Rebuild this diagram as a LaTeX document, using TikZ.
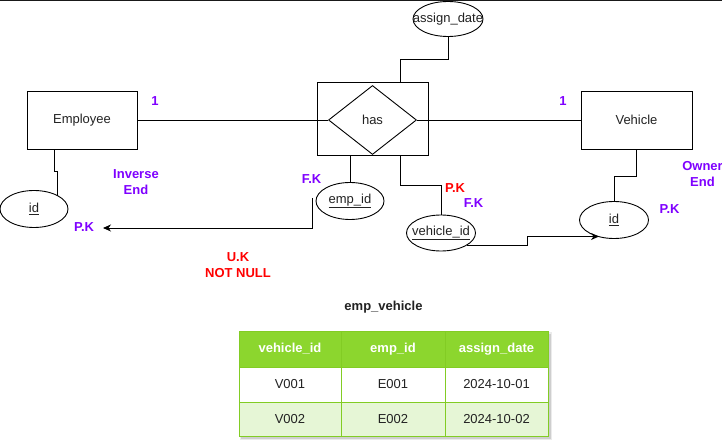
\documentclass[tikz,border=0pt]{standalone}
\usepackage{fontspec}
\setmainfont{Liberation Sans}
\usetikzlibrary{shapes.geometric,arrows.meta}
\definecolor{lbl}{HTML}{7F00FF}
\definecolor{redlbl}{HTML}{FF0000}
\definecolor{hdr}{HTML}{8CD62E}
\definecolor{hdrline}{HTML}{82CC24}
\definecolor{rowlt}{HTML}{E6F6D6}
\definecolor{txt}{HTML}{222222}
\tikzset{
  base/.style={font=\fontsize{13}{15}\selectfont, text=txt, inner sep=0pt},
  entity/.style={base, draw=black, line width=0.9pt, minimum width=110pt, minimum height=58pt},
  attr/.style 2 args={draw=black, line width=0.9pt, ellipse, inner sep=0pt, minimum width=#1, minimum height=37pt,
     label={[base]center:#2}},
  rel/.style={base, draw=black, line width=0.9pt, diamond, aspect=1.275, minimum width=88pt, minimum height=69pt},
  conn/.style={draw=black, line width=0.9pt},
  arr/.style={conn, -{Stealth[length=8pt,width=7pt,inset=2.5pt]}},
  plbl/.style={font=\bfseries\fontsize{13}{16}\selectfont, text=lbl, align=center, inner sep=0pt},
  rlbl/.style={font=\bfseries\fontsize{13}{16}\selectfont, text=redlbl, align=center, inner sep=0pt},
  cell/.style={draw=hdrline, line width=1pt, minimum height=#1, inner sep=0pt, font=\fontsize{13}{15}\selectfont, text=txt},
}
\begin{document}
\begin{tikzpicture}[x=1pt,y=-1pt]
\useasboundingbox (0,0) rectangle (722,443);
\clip (0,0) rectangle (722,443);
\fill[white] (0,0) rectangle (722,443);
\draw[line width=1.4pt, black!90] (0,0.6) -- (722,0.6);

% entities
\node[entity] (emp) at (82,120) {Employee};
\node[entity, minimum width=111pt] (veh) at (636.5,120) {Vehicle};
\node[entity, minimum width=111pt, minimum height=73pt] (hasbox) at (372.5,118.5) {};
\node[rel] (hasd) at (372.5,120) {has};

% attributes
\node[attr={70pt}{assign\_date}, minimum height=35pt] (ad) at (448,19) {};
\node[attr={68pt}{\underline{emp\_id}}] (eid) at (350,201) {};
\node[attr={69pt}{\underline{vehicle\_id}}, minimum height=36pt] (vid) at (441,233) {};
\node[attr={69pt}{\underline{id}}] (vkey) at (614,220) {};
\node[attr={68pt}{\underline{id}}] (ekey) at (34,209) {};

% connectors
\draw[conn] (emp.east) -- (hasd.west);
\draw[conn] (hasd.east) -- (veh.west);
\coordinate (c1) at (400,59);
\draw[conn] (ad.south) |- (c1) -- (c1 |- hasbox.north);
\draw[conn] (eid.north) -- (eid.north |- hasbox.south);
\coordinate (c2) at (400,185);
\draw[conn] (c2 |- hasbox.south) -- (c2) -| (vid.north);
\coordinate (c3) at (636,176);
\draw[conn] (c3 |- veh.south) -- (c3) -| (vkey.north);
\coordinate (c4) at (54.5,171);
\coordinate (c5) at (57.5,196);
\draw[conn] (c4 |- emp.south) -- (c4) -| (c5);

\coordinate (a1s) at (312.5,198);
\coordinate (a1e) at (103,228);
\draw[arr] (a1s) |- (a1e);
\coordinate (a2s) at (467,245.5);
\coordinate (c6) at (527.5,236.5);
\coordinate (a2e) at (599,236.5);
\draw[arr] (a2s) -- (a2s -| c6) |- (a2e);

% labels
\node[plbl] (one1) at (155,101) {1};
\node[plbl] (one2) at (563,101) {1};
\node[plbl] (inv) at (136,182) {Inverse\\End};
\node[plbl] (pk1) at (84,227) {P.K};
\node[plbl] (fk1) at (311.5,179) {F.K};
\node[rlbl] (uk) at (238,265.5) {U.K\\NOT NULL};
\node[rlbl] (pk2) at (455,188) {P.K};
\node[plbl] (fk2) at (473.5,203) {F.K};
\node[plbl] (own) at (702.5,174) {Owner\\End};
\node[plbl] (pk3) at (669.5,209) {P.K};

% table
\node[font=\bfseries\fontsize{13}{15}\selectfont, text=txt, inner sep=0pt] (title) at (383.5,307) {emp\_vehicle};
\fill[black, opacity=0.12] (241,333.5) rectangle (550.5,439);
\fill[black, opacity=0.08] (240,332) rectangle (551.5,440);
\begin{scope}[every node/.style={cell=35pt}]
\node[fill=hdr, minimum width=102pt, minimum height=36pt, text=white, font=\bfseries\fontsize{13}{15}\selectfont] (h1) at (290,349) {vehicle\_id};
\node[fill=hdr, minimum width=104pt, minimum height=36pt, text=white, font=\bfseries\fontsize{13}{15}\selectfont] (h2) at (393,349) {emp\_id};
\node[fill=hdr, minimum width=103pt, minimum height=36pt, text=white, font=\bfseries\fontsize{13}{15}\selectfont] (h3) at (496.5,349) {assign\_date};
\node[fill=white, minimum width=102pt] (r11) at (290,384.5) {V001};
\node[fill=white, minimum width=104pt] (r12) at (393,384.5) {E001};
\node[fill=white, minimum width=103pt] (r13) at (496.5,384.5) {2024-10-01};
\node[fill=rowlt, minimum width=102pt, minimum height=34pt] (r21) at (290,419) {V002};
\node[fill=rowlt, minimum width=104pt, minimum height=34pt] (r22) at (393,419) {E002};
\node[fill=rowlt, minimum width=103pt, minimum height=34pt] (r23) at (496.5,419) {2024-10-02};
\end{scope}
\end{tikzpicture}
\end{document}
